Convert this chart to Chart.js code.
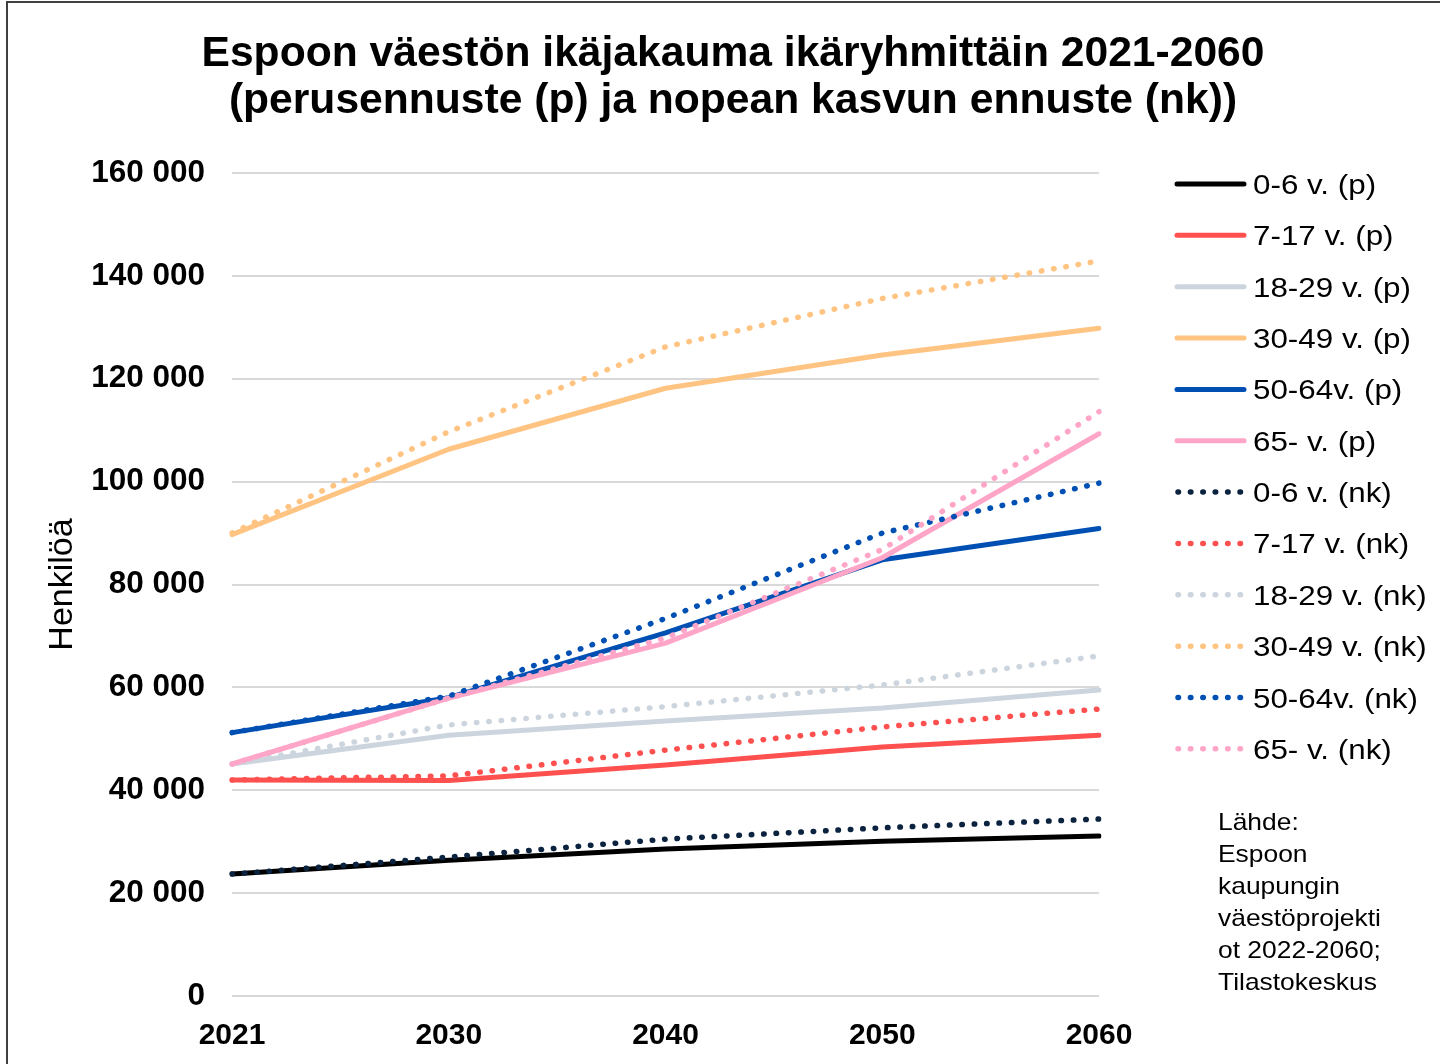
<!DOCTYPE html>
<html lang="fi">
<head>
<meta charset="utf-8">
<title>Espoon väestön ikäjakauma</title>
<script src="https://cdn.jsdelivr.net/npm/chart.js@4.4.1/dist/chart.umd.min.js"></script>
<style>
  html, body { margin: 0; padding: 0; background: #fff; }
  #wrap { width: 1440px; height: 1064px; }
</style>
</head>
<body>
<div id="wrap"><canvas id="myChart" width="1440" height="1064"></canvas></div>
<script>
// Vuodet (x-akseli)
const years = ["2021", "2030", "2040", "2050", "2060"];

// Perusennuste (p)
const p_0_6   = [23700, 26400, 28600, 30100, 31100];
const p_7_17  = [42000, 41900, 44900, 48400, 50700];
const p_18_29 = [45100, 50700, 53450, 56000, 59500];
const p_30_49 = [89700, 106300, 118150, 124600, 129800];
const p_50_64 = [51200, 58000, 70600, 84800, 90900];
const p_65    = [45100, 57900, 68600, 85200, 109300];

// Nopean kasvun ennuste (nk)
const nk_0_6   = [23700, 27000, 30500, 32700, 34400];
const nk_7_17  = [42000, 42800, 47800, 52300, 55800];
const nk_18_29 = [45100, 52700, 56250, 60450, 66100];
const nk_30_49 = [90000, 109700, 126200, 135600, 142900];
const nk_50_64 = [51200, 58300, 73400, 90000, 99700];
const nk_65    = [45100, 57900, 69600, 86800, 113600];

const seriesLabels = [
  "0-6 v. (p)", "7-17 v. (p)", "18-29 v. (p)", "30-49 v. (p)", "50-64v. (p)", "65- v. (p)",
  "0-6 v. (nk)", "7-17 v. (nk)", "18-29 v. (nk)", "30-49 v. (nk)", "50-64v. (nk)", "65- v. (nk)"
];
const seriesValues = [p_0_6, p_7_17, p_18_29, p_30_49, p_50_64, p_65,
                      nk_0_6, nk_7_17, nk_18_29, nk_30_49, nk_50_64, nk_65];
const seriesColors = ["#000000", "#FF5050", "#CCD5DE", "#FFC382", "#0050B4", "#FFA5C8",
                      "#0C2340", "#FF5050", "#CCD5DE", "#FFC382", "#0050B4", "#FFA5C8"];

const yTicks = [0, 20000, 40000, 60000, 80000, 100000, 120000, 140000, 160000];

const sourceLines = ["Lähde:", "Espoon", "kaupungin", "väestöprojekti", "ot 2022-2060;", "Tilastokeskus"];
const titleLines = ["Espoon väestön ikäjakauma ikäryhmittäin 2021-2060",
                    "(perusennuste (p) ja nopean kasvun ennuste (nk))"];

const FONT = "'Liberation Sans', Arial, sans-serif";
const DOTS = [0.5, 11.9];

function isDotted(i) { return i >= 6; }

function formatNumber(v) {
  return String(v).replace(/\B(?=(\d{3})+(?!\d))/g, " ");
}

const datasets = seriesValues.map((vals, i) => ({
  label: seriesLabels[i],
  data: vals,
  borderColor: seriesColors[i],
  backgroundColor: seriesColors[i],
  borderWidth: isDotted(i) ? 5.5 : 5,
  borderDash: isDotted(i) ? DOTS : [],
  borderCapStyle: "round",
  borderJoinStyle: "round",
  pointRadius: 0,
  fill: false,
  tension: 0,
  order: seriesValues.length - i // myöhemmät sarjat päälle kuten Excelissä
}));

// Otsikko, selite, lähde ja kehys piirretään itse
const decorPlugin = {
  id: "decor",
  afterDraw(chart) {
    const ctx = chart.ctx;
    ctx.save();

    // kehys
    ctx.strokeStyle = "#404040";
    ctx.lineWidth = 2;
    ctx.strokeRect(7, 2, 1450, 1080);

    // otsikko
    ctx.fillStyle = "#000";
    ctx.textAlign = "center";
    ctx.textBaseline = "alphabetic";
    ctx.font = "bold 42.6px " + FONT;
    ctx.fillText(titleLines[0], 733, 66);
    ctx.fillText(titleLines[1], 733, 113);

    // selite
    chart.data.datasets.forEach((ds, i) => {
      const y = 184 + i * 51.35;
      ctx.beginPath();
      ctx.strokeStyle = ds.borderColor;
      ctx.lineWidth = ds.borderWidth;
      ctx.lineCap = "round";
      ctx.setLineDash(ds.borderDash);
      if (isDotted(i)) {
        ctx.moveTo(1178, y);
        ctx.lineTo(1241, y);
      } else {
        ctx.moveTo(1177, y);
        ctx.lineTo(1244, y);
      }
      ctx.stroke();
      ctx.setLineDash([]);

      ctx.save();
      ctx.translate(1253, y + 10);
      ctx.scale(1.1, 1);
      ctx.font = "28.5px " + FONT;
      ctx.textAlign = "left";
      ctx.fillStyle = "#000";
      ctx.fillText(ds.label, 0, 0);
      ctx.restore();
    });

    // lähde
    sourceLines.forEach((line, i) => {
      ctx.save();
      ctx.translate(1218, 830 + i * 32);
      ctx.scale(1.1, 1);
      ctx.font = "24px " + FONT;
      ctx.textAlign = "left";
      ctx.fillStyle = "#000";
      ctx.fillText(line, 0, 0);
      ctx.restore();
    });

    ctx.restore();
  }
};

const ctx = document.getElementById("myChart");

new Chart(ctx.getContext("2d"), {
  type: "line",
  data: {
    labels: years,
    datasets: datasets
  },
  options: {
    responsive: false,
    animation: false,
    layout: { padding: { top: 173, right: 341, bottom: 0, left: 0 } },
    plugins: {
      legend: { display: false },
      title: { display: false },
      tooltip: { enabled: false }
    },
    scales: {
      x: {
        type: "category",
        offset: false,
        grid: { display: false, drawTicks: false },
        border: { display: false },
        ticks: {
          color: "#000",
          font: { family: FONT, size: 30, weight: "bold" },
          padding: 22,
          maxRotation: 0,
          autoSkip: false
        },
        afterFit: scale => { scale.height = 68; }
      },
      y: {
        min: yTicks[0],
        max: yTicks[yTicks.length - 1],
        grid: { color: "#D9D9D9", lineWidth: 2, drawTicks: false },
        border: { display: false },
        afterBuildTicks: scale => { scale.ticks = yTicks.map(v => ({ value: v })); },
        ticks: {
          color: "#000",
          font: { family: FONT, size: 31.5, weight: "bold" },
          padding: 27,
          callback: v => formatNumber(v)
        },
        title: {
          display: true,
          text: "Henkilöä",
          color: "#000",
          font: { family: FONT, size: 34 },
          padding: { top: 42, bottom: 0 }
        },
        afterFit: scale => { scale.width = 232; }
      }
    }
  },
  plugins: [decorPlugin]
});
</script>
</body>
</html>
